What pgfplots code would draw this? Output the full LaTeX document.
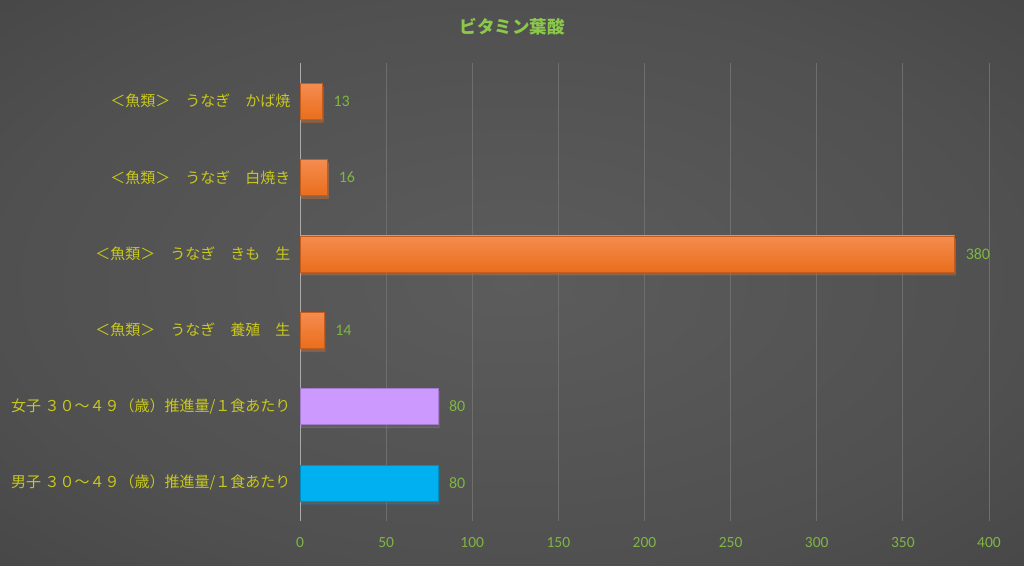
\documentclass[border=0pt]{standalone}
\usepackage{fontspec}
\usepackage{pgfplots}
\pgfplotsset{compat=1.18}
\usetikzlibrary{shadows}
\setmainfont{Noto Sans CJK JP}
\newfontfamily\carlito{Carlito}
\definecolor{ylab}{RGB}{200,200,30}
\definecolor{glab}{RGB}{126,182,66}
\definecolor{ttl}{RGB}{140,200,75}
\definecolor{otop}{RGB}{245,140,80}
\definecolor{obot}{RGB}{234,110,28}
\definecolor{oedge}{RGB}{196,92,30}
\definecolor{purp}{RGB}{204,153,255}
\definecolor{blu}{RGB}{0,176,240}
\definecolor{gridc}{RGB}{110,110,110}
\definecolor{axc}{RGB}{170,170,170}
\definecolor{bgA}{RGB}{92,92,92}
\definecolor{bgB}{RGB}{80,80,80}
\definecolor{bgC}{RGB}{60,60,60}
\definecolor{bgD}{RGB}{36,36,36}
\pgfdeclareradialshading{bgshade}{\pgfpoint{0bp}{0bp}}{color(0bp)=(bgA); color(25bp)=(bgB); color(50bp)=(bgC); color(71bp)=(bgD); color(100bp)=(bgD)}
\pgfplotsset{
  shd/.style={drop shadow={shadow xshift=1pt, shadow yshift=-3pt, opacity=0.25}},
  orng/.style={bar shift=0pt, top color=otop, bottom color=obot, draw=oedge, shd},
}
\begin{document}
\begin{tikzpicture}[x=1pt,y=1pt]
\shade[shading=bgshade] (0,0) rectangle (1024,565);
\begin{axis}[
  at={(300pt,44pt)}, anchor=south west,
  width=689pt, height=458pt, scale only axis,
  xmin=0, xmax=400, ymin=-0.5, ymax=5.5,
  xtick={0,50,...,400},
  ytick={0,1,2,3,4,5},
  yticklabels={男子 ３０～４９（歳）推進量/１食あたり,女子 ３０～４９（歳）推進量/１食あたり,＜魚類＞　うなぎ　養殖　生,＜魚類＞　うなぎ　きも　生,＜魚類＞　うなぎ　白焼き,＜魚類＞　うなぎ　かば焼},
  axis lines*=left,
  x axis line style={draw=none},
  y axis line style={draw=axc, line width=1pt},
  major tick length=0pt,
  xmajorgrids, major grid style={gridc, line width=0.8pt},
  /pgf/number format/assume math mode=true,
  xticklabel style={font=\carlito\fontsize{15.5}{17}\selectfont, text=glab, yshift=-13pt},
  yticklabel style={font=\fontsize{15}{16}\selectfont, text=ylab, xshift=-6pt},
  xbar, bar width=36pt,
  nodes near coords,
  nodes near coords style={font=\carlito\fontsize{16}{18}\selectfont, text=glab, anchor=west, inner sep=0pt, xshift=11pt},
]
\addplot[bar shift=0pt, fill=blu, draw=blu!80!black, shd] coordinates {(80,0)};
\addplot[bar shift=0pt, fill=purp, draw=purp!80!black, shd] coordinates {(80,1)};
\addplot[orng] coordinates {(14,2)};
\addplot[orng] coordinates {(380,3)};
\addplot[orng] coordinates {(16,4)};
\addplot[orng] coordinates {(13,5)};
\end{axis}
\node[font=\fontsize{17.5}{19}\selectfont\bfseries, text=ttl] at (512,538) {ビタミン葉酸};
\end{tikzpicture}
\end{document}
